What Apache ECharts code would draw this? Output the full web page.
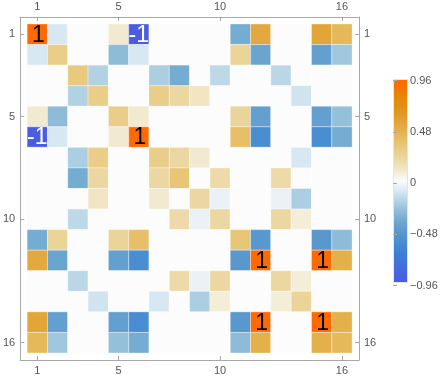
<!DOCTYPE html>
<html>
<head>
<meta charset="utf-8">
<script src="https://cdn.jsdelivr.net/npm/echarts@6/dist/echarts.min.js"></script>
<style>
  html, body { margin: 0; padding: 0; background: #fff; }
  #chart { width: 447px; height: 379px; }
</style>
</head>
<body>
<div id="chart"></div>
<script>
// tick positions on the matrix frame and on the colour bar
var tickValues = [1, 5, 10, 16];
var barMin = -0.96, barMax = 0.96, barStep = 0.48;

// matrix rows (row 1 at top)
var row1  = [1, -0.1, 0, 0, 0.1, -1, 0, 0, 0, 0, -0.38, 0.55, 0, 0, 0.58, 0.45];
var row2  = [-0.1, 0.3, 0, 0, -0.3, -0.1, 0, 0, 0, 0, 0.25, -0.42, 0, 0, -0.45, -0.25];
var row3  = [0, 0, 0.33, -0.2, 0, 0, -0.22, -0.38, 0, -0.17, 0, 0, -0.18, 0, 0, 0];
var row4  = [0, 0, -0.2, 0.3, 0, 0, 0.3, 0.22, 0.13, 0, 0, 0, 0, -0.12, 0, 0];
var row5  = [0.1, -0.3, 0, 0, 0.3, 0.1, 0, 0, 0, 0, 0.25, -0.45, 0, 0, -0.45, -0.28];
var row6  = [-1, -0.1, 0, 0, 0.1, 1, 0, 0, 0, 0, 0.4, -0.6, 0, 0, -0.6, -0.38];
var row7  = [0, 0, -0.22, 0.3, 0, 0, 0.3, 0.22, 0.1, 0, 0, 0, 0, -0.1, 0, 0];
var row8  = [0, 0, -0.38, 0.22, 0, 0, 0.22, 0.35, 0, 0.2, 0, 0, 0.2, 0, 0, 0];
var row9  = [0, 0, 0, 0.13, 0, 0, 0.1, 0, 0.22, -0.05, 0, 0, -0.05, -0.22, 0, 0];
var row10 = [0, 0, -0.17, 0, 0, 0, 0, 0.2, -0.05, 0.22, 0, 0, 0.22, 0.08, 0, 0];
var row11 = [-0.38, 0.25, 0, 0, 0.25, 0.4, 0, 0, 0, 0, 0.35, -0.5, 0, 0, -0.5, -0.3];
var row12 = [0.55, -0.42, 0, 0, -0.45, -0.6, 0, 0, 0, 0, -0.5, 1, 0, 0, 1, 0.5];
var row13 = [0, 0, -0.18, 0, 0, 0, 0, 0.2, -0.05, 0.22, 0, 0, 0.22, 0.08, 0, 0];
var row14 = [0, 0, 0, -0.12, 0, 0, -0.1, 0, -0.22, 0.08, 0, 0, 0.08, 0.25, 0, 0];
var row15 = [0.58, -0.45, 0, 0, -0.45, -0.6, 0, 0, 0, 0, -0.5, 1, 0, 0, 1, 0.5];
var row16 = [0.45, -0.25, 0, 0, -0.28, -0.38, 0, 0, 0, 0, -0.3, 0.5, 0, 0, 0.5, 0.45];

var matrix = [row1, row2, row3, row4, row5, row6, row7, row8,
              row9, row10, row11, row12, row13, row14, row15, row16];

// colour stops from -1 to 1 (step 0.1)
var colorStops = ['#4a5de2', '#4665e0', '#3f74da', '#3d80d6', '#4a8ed2', '#5898cd',
                  '#6ea8d0', '#8ebcd8', '#b2d2e4', '#d8e8f2', '#fcfcfc', '#f2ead0',
                  '#eddaa8', '#e9cd88', '#e6bf68', '#e3b04a', '#e2a232', '#e0941a',
                  '#e38a08', '#f27800', '#ff6a00'];

var cells = [];
matrix.forEach(function (row, r) {
  row.forEach(function (v, c) {
    cells.push([c + 1, r + 1, v]);
  });
});

var fontFam = '"Liberation Sans", Arial, sans-serif';
var lblColor = '#555';
var frameColor = '#a8a8a8';
var lo = 0.16, hi = 16.84;

function frameAxis(pos, extra) {
  var a = {
    type: 'value', gridIndex: 0, position: pos, min: lo, max: hi,
    axisLine: { show: true, lineStyle: { color: frameColor, width: 1 } },
    axisTick: { show: true, inside: true, length: 4, customValues: tickValues,
                lineStyle: { color: frameColor } },
    axisLabel: { show: true, customValues: tickValues, color: lblColor,
                 fontSize: 11, fontFamily: fontFam, margin: 5 },
    splitLine: { show: false }
  };
  for (var k in extra) a[k] = extra[k];
  return a;
}

// colour bar gradient (top = +1)
var barGrad = colorStops.map(function (c, i) {
  return { offset: 1 - i / (colorStops.length - 1), color: c };
}).reverse();

var chart = echarts.init(document.getElementById('chart'));
chart.setOption({
  animation: false,
  backgroundColor: '#fff',
  grid: [
    { left: 14, top: 17, width: 345, height: 343 },
    { left: 393, top: 80.5, width: 14, height: 205 }
  ],
  xAxis: [
    frameAxis('bottom', {}),
    frameAxis('top', {}),
    { type: 'value', gridIndex: 1, show: false, min: 0, max: 1 }
  ],
  yAxis: [
    frameAxis('left', { inverse: true }),
    frameAxis('right', { inverse: true }),
    {
      type: 'value', gridIndex: 1, position: 'right',
      min: barMin, max: barMax, interval: barStep,
      axisLine: { show: false },
      axisTick: { show: true, inside: false, length: 4, lineStyle: { color: frameColor } },
      axisLabel: {
        color: lblColor, fontSize: 11, fontFamily: fontFam, margin: 3,
        formatter: function (v) {
          if (Math.abs(v) < 1e-9) return '0';
          return (v < 0 ? '\u2212' : '') + Math.abs(v).toFixed(2);
        }
      },
      splitLine: { show: false }
    }
  ],
  visualMap: {
    show: false,
    type: 'continuous',
    min: -1, max: 1,
    dimension: 2,
    seriesIndex: 0,
    inRange: { color: colorStops }
  },
  graphic: [{
    type: 'rect',
    left: 393, top: 79,
    shape: { width: 14, height: 203 },
    style: {
      fill: new echarts.graphic.LinearGradient(0, 0, 0, 1, barGrad),
      stroke: '#e4e4e4', lineWidth: 1
    }
  }],
  series: [{
    type: 'custom',
    xAxisIndex: 0,
    yAxisIndex: 0,
    data: cells,
    renderItem: function (params, api) {
      var v = api.value(2);
      var p = api.coord([api.value(0) - 0.5, api.value(1) - 0.5]);
      var s = api.size([1, 1]);
      var children = [{
        type: 'rect',
        shape: { x: p[0], y: p[1], width: s[0], height: s[1] },
        style: { fill: api.visual('color'), stroke: 'rgba(255,255,255,0.35)', lineWidth: 1 }
      }];
      if (Math.abs(v) >= 0.99) {
        children.push({
          type: 'text',
          style: {
            text: v > 0 ? '1' : '-1',
            x: p[0] + s[0] / 2 + (v > 0 ? 1 : 0),
            y: p[1] + s[1] / 2 + 1,
            align: 'center', verticalAlign: 'middle',
            fill: v > 0 ? '#000' : '#fff',
            fontSize: 23, fontFamily: fontFam
          }
        });
      }
      return { type: 'group', children: children };
    }
  }]
});
</script>
</body>
</html>
